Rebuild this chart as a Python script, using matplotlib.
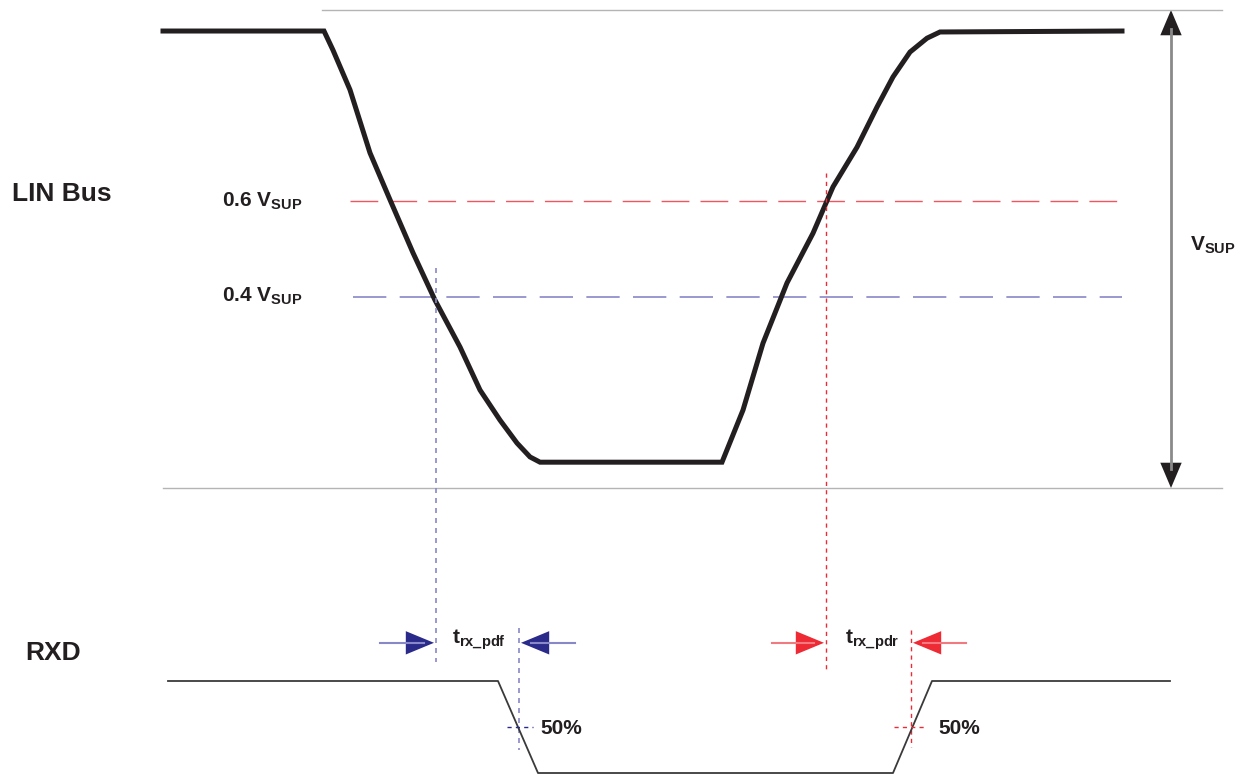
import matplotlib.pyplot as plt
from matplotlib.patches import FancyArrowPatch

plt.rcParams['font.family'] = ['Liberation Sans', 'DejaVu Sans']
plt.rcParams['mathtext.fontset'] = 'custom'
plt.rcParams['mathtext.rm'] = 'Liberation Sans:bold'
plt.rcParams['mathtext.bf'] = 'Liberation Sans:bold'
plt.rcParams['mathtext.it'] = 'Liberation Sans:bold'

# LIN bus waveform: time (arbitrary units) and voltage as a fraction of VSUP
lin_t = [163, 324, 333, 350, 370, 390, 413, 435, 460, 480, 500, 517, 530, 540,
         722, 743, 763, 787, 813, 833, 857, 877, 893, 910, 927, 940, 1122]
lin_v = [0.956, 0.956, 0.916, 0.833, 0.701, 0.603, 0.492, 0.393, 0.295, 0.205, 0.142, 0.094, 0.065, 0.054,
         0.054, 0.163, 0.303, 0.429, 0.533, 0.630, 0.713, 0.797, 0.860, 0.912, 0.941, 0.954, 0.956]

# RXD waveform (logic level)
rxd_t = [168, 498, 538, 893, 932, 1170]
rxd_v = [1, 1, 0, 0, 1, 1]

thresholds = [0.6, 0.4]
threshold_labels = ['0.6 V$_{\\mathrm{SUP}}$', '0.4 V$_{\\mathrm{SUP}}$']
t_fall_04 = 436   # LIN crosses 0.4 VSUP
t_rise_06 = 826   # LIN crosses 0.6 VSUP
t_rxd_fall50 = 519
t_rxd_rise50 = 911

RED = '#ee2a35'
RED_L = '#f07a80'
BLUE = '#2a2a8a'
BLUE_L = '#8888c8'
GRAY = '#b4b4b4'
INK = '#231f20'

fig = plt.figure(figsize=(12.53, 7.75), dpi=100)
ax = fig.add_axes([0, 0, 1, 1])
ax.set_xlim(0, 1253)
ax.set_ylim(-0.6004, 1.0209)   # VSUP scale: 0 and 1 are the gray reference lines
ax.axis('off')

ax2 = fig.add_axes([0, 0, 1, 1])
ax2.set_xlim(0, 1253)
ax2.set_ylim(-0.0217, 8.402)   # RXD logic scale
ax2.axis('off')
ax2.patch.set_alpha(0)

# reference lines
ax.plot([322, 1222], [1, 1], color=GRAY, lw=1)
ax.plot([163, 1222], [0, 0], color=GRAY, lw=1)

# threshold dashed lines
ax.plot([350, 1122], [0.6, 0.6], color='#f05560', lw=1, dashes=(20, 8))
ax.plot([353, 1122], [0.4, 0.4], color=BLUE_L, lw=1.2, dashes=(20, 8))

# LIN bus
ax.plot(lin_t, lin_v, color=INK, lw=3.6, solid_joinstyle='miter')

# VSUP double arrow
ax.plot([1171, 1171], [0.04, 0.96], color='#8a8a8a', lw=2)
for y0, y1 in [(0.88, 1.0), (0.12, 0.0)]:
    ax.add_patch(FancyArrowPatch((1171, y0), (1171, y1), arrowstyle='-|>,head_length=1.3,head_width=0.55',
                                 mutation_scale=14, color=INK, lw=0, shrinkA=0, shrinkB=0))
ax.text(1190, 0.508, 'V$_{\\mathrm{SUP}}$', fontsize=15, va='center', ha='left', color=INK, fontweight='bold')

# labels
ax.text(12, 0.615, 'LIN Bus', fontsize=19, fontweight='bold', va='center', color=INK)
ax2.text(25, 1.3, 'RXD', fontsize=19, fontweight='bold', va='center', color=INK)
for th, lab in zip(thresholds, threshold_labels):
    ax.text(222, th, lab, fontsize=15, fontweight='bold', va='center', color=INK)

# vertical dotted markers
ax.plot([t_fall_04, t_fall_04], [0.461, -0.365], color=BLUE_L, lw=1.2, dashes=(3, 3))
ax.plot([t_rise_06, t_rise_06], [0.659, -0.381], color=RED, lw=1, dashes=(3, 3))
ax2.plot([t_rxd_fall50, t_rxd_fall50], [1.58, 0.25], color=BLUE_L, lw=1.2, dashes=(3, 3))
ax2.plot([t_rxd_rise50, t_rxd_rise50], [1.55, 0.28], color=RED, lw=1, dashes=(3, 3))

# RXD waveform
ax2.plot(rxd_t, rxd_v, color='#3a3a3a', lw=1.3)

# 50% ticks
ax2.plot([507, 533], [0.5, 0.5], color=BLUE, lw=1, dashes=(3, 3))
ax2.plot([894, 926], [0.5, 0.5], color=RED, lw=1, dashes=(3, 3))
ax2.text(540, 0.48, '50%', fontsize=15, fontweight='bold', va='center', color=INK)
ax2.text(938, 0.48, '50%', fontsize=15, fontweight='bold', va='center', color=INK)

# propagation delay arrows
y_arr = 1.415
arrows = [(380, t_fall_04, BLUE_L, BLUE), (575, t_rxd_fall50, BLUE_L, BLUE),
          (772, t_rise_06, RED_L, RED), (966, t_rxd_rise50, RED_L, RED)]
for x0, x1, lc, hc in arrows:
    d = 1 if x1 > x0 else -1
    ax2.plot([x0, x1 - d * 12], [y_arr, y_arr], color=lc, lw=1.5)
    ax2.add_patch(FancyArrowPatch((x1 - d * 40, y_arr), (x1 - d * 2, y_arr),
                                  arrowstyle='-|>,head_length=1.45,head_width=0.6',
                                  mutation_scale=14, color=hc, lw=0, shrinkA=0, shrinkB=0))

ax2.text(452, y_arr + 0.03, 't$_{\\mathrm{rx\\_pdf}}$', fontsize=15, fontweight='bold', va='center', color=INK)
ax2.text(845, y_arr + 0.03, 't$_{\\mathrm{rx\\_pdr}}$', fontsize=15, fontweight='bold', va='center', color=INK)

fig.savefig('out.png', dpi=100, facecolor='white')
